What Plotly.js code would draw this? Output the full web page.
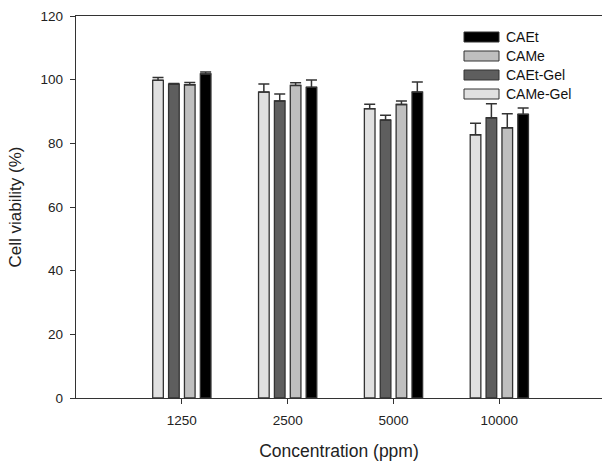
<!DOCTYPE html>
<html>
<head>
<meta charset="utf-8">
<script src="https://cdn.plot.ly/plotly-3.0.1.min.js"></script>
<style>html,body{margin:0;padding:0;background:#fff;}#chart{width:602px;height:463px;}</style>
</head>
<body>
<div id="chart"></div>
<script>
// ---- data ----
var concentrations = ["1250", "2500", "5000", "10000"];
var seriesNames = ["CAMe-Gel", "CAEt-Gel", "CAMe", "CAEt"];
var cameGel = [99.8, 96.1, 90.9, 82.7];
var cameGelErr = [0.9, 2.5, 1.4, 3.6];
var caetGel = [98.6, 93.3, 87.3, 88.0];
var caetGelErr = [0.2, 2.2, 1.5, 4.4];
var came = [98.4, 98.2, 92.2, 84.9];
var cameErr = [0.7, 0.8, 1.1, 4.4];
var caet = [101.8, 97.6, 96.1, 89.1];
var caetErr = [0.6, 2.3, 3.2, 2.0];
var yTicks = [0, 20, 40, 60, 80, 100, 120];

// ---- styles ----
var fills = ["#e0e0e0", "#5e5e5e", "#bfbfbf", "#000000"];
var font = "Liberation Sans, Arial, sans-serif";
var values = [cameGel, caetGel, came, caet];
var errs = [cameGelErr, caetGelErr, cameErr, caetErr];

var traces = values.map(function (v, i) {
  return {
    type: "bar",
    name: seriesNames[i],
    x: concentrations,
    y: v,
    marker: {color: fills[i], line: {color: "#333333", width: 1.3}},
    error_y: {
      type: "data", symmetric: false, array: errs[i],
      arrayminus: v.map(function () { return 0; }),
      color: "#333333", thickness: 1.5, width: 5.5
    },
    showlegend: false,
    hoverinfo: "x+y+name"
  };
});

// custom legend (wide swatches like the original)
var M = {l: 76, r: 0, t: 16, b: 65};
var W = 602, H = 463;
var pw = W - M.l - M.r, ph = H - M.t - M.b;
function px2x(px) { return (px - M.l) / pw; }
function py2y(py) { return (H - M.b - py) / ph; }
var legendOrder = [3, 2, 1, 0];
var rowY = [37, 56, 75, 94];
var shapes = [], annotations = [];
legendOrder.forEach(function (k, r) {
  shapes.push({
    type: "rect", xref: "paper", yref: "paper",
    x0: px2x(464), x1: px2x(499),
    y0: py2y(rowY[r] + 5), y1: py2y(rowY[r] - 5),
    fillcolor: fills[k], line: {color: "#333333", width: 1}
  });
  annotations.push({
    xref: "paper", yref: "paper", x: px2x(504), y: py2y(rowY[r]),
    xanchor: "left", yanchor: "middle", showarrow: false,
    text: seriesNames[k], font: {family: font, size: 14, color: "#111"}
  });
});

var layout = {
  width: W, height: H,
  margin: M,
  paper_bgcolor: "#ffffff", plot_bgcolor: "#ffffff",
  barmode: "group", bargap: 0.4, bargroupgap: 0.33,
  showlegend: false,
  font: {family: font, size: 13.5, color: "#222"},
  xaxis: {
    type: "category", range: [-1.0, 3.97],
    showline: true, linecolor: "#333", linewidth: 1.3, mirror: true,
    ticks: "outside", ticklen: 5, tickcolor: "#333", tickwidth: 1,
    ticklabelstandoff: 4,
    showgrid: false, zeroline: false,
    tickfont: {family: font, size: 13.5, color: "#222"},
    title: {text: "Concentration (ppm)", font: {family: font, size: 17.5, color: "#222"}, standoff: 18}
  },
  yaxis: {
    range: [0, 120], tickvals: yTicks, ticktext: yTicks.map(String),
    showline: true, linecolor: "#333", linewidth: 1.3,
    ticks: "outside", ticklen: 5, tickcolor: "#333", tickwidth: 1,
    ticklabelstandoff: 4,
    showgrid: false, zeroline: false,
    tickfont: {family: font, size: 13.5, color: "#222"},
    title: {text: "Cell viability (%)", font: {family: font, size: 17, color: "#222"}, standoff: 14}
  },
  shapes: shapes,
  annotations: annotations
};

Plotly.newPlot("chart", traces, layout, {displayModeBar: false, staticPlot: true});
</script>
</body>
</html>
